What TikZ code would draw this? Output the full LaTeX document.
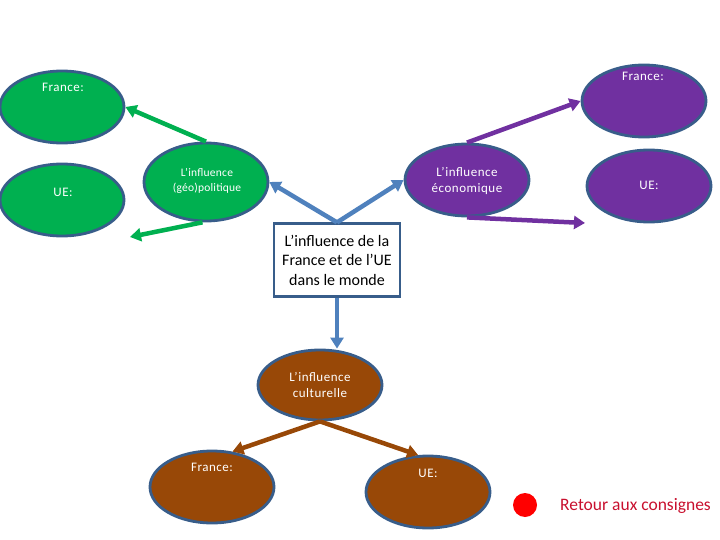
\documentclass[tikz,border=0pt]{standalone}
\usepackage{fontspec}
\setmainfont{Carlito}
\usetikzlibrary{arrows.meta,shapes.geometric}
\definecolor{gr}{HTML}{00B050}
\definecolor{pu}{HTML}{7030A0}
\definecolor{br}{HTML}{984807}
\definecolor{bd}{HTML}{385D8A}
\definecolor{bl}{HTML}{4F81BD}
\definecolor{rt}{HTML}{C8102E}
\tikzset{
  oval/.style={ellipse, draw=bd, line width=2.8pt, inner sep=0pt, minimum width=124pt, minimum height=72pt},
  wtxt/.style={text=white, font=\fontsize{13}{16}\selectfont\addfontfeature{LetterSpace=4}, align=center, inner sep=0pt},
  arr/.style={line width=4.5pt, -{Triangle[length=11pt,width=13pt]}},
}
\begin{document}
\begin{tikzpicture}[x=1pt,y=-1pt]
\useasboundingbox (0,0) rectangle (720,540);
% green
\node[oval, fill=gr] (gfr) at (62,107) {};
\node[oval, fill=gr] (gue) at (62,200) {};
\node[oval, fill=gr, minimum height=78pt] (geo) at (206,182) {};
\node[wtxt] (tgfr) at (63,87) {France:};
\node[wtxt] (tgue) at (63,192) {UE:};
\node[wtxt, font=\fontsize{11.5}{15}\selectfont\addfontfeature{LetterSpace=2}] (tgeo) at (207,181) {L’influence\\(géo)politique};
% purple
\node[oval, fill=pu] (eco) at (467,180) {};
\node[oval, fill=pu] (pfr) at (644,101) {};
\node[oval, fill=pu] (pue) at (649,186) {};
\node[wtxt] (teco) at (467,181) {L’influence\\économique};
\node[wtxt] (tpfr) at (643,76) {France:};
\node[wtxt] (tpue) at (649,185) {UE:};
% box
\node[draw=bd, line width=2.2pt, fill=white, minimum width=126pt, minimum height=73pt, align=center, inner sep=0pt,
  font=\fontsize{16}{19.5}\selectfont] (box) at (337,260) {L’influence de la\\France et de l’UE\\dans le monde};
% brown
\node[oval, fill=br, minimum height=70pt] (cult) at (320,385) {};
\node[oval, fill=br] (bfr) at (212,487) {};
\node[oval, fill=br] (bue) at (428,492) {};
\node[wtxt] (tcult) at (320,385) {L’influence\\culturelle};
\node[wtxt] (tbfr) at (212,467) {France:};
\node[wtxt] (tbue) at (428,473) {UE:};
% coordinates
\coordinate (tipgue) at (130,237);
\coordinate (tippue) at (585,223);
% arrows
\draw[arr, gr] (geo.north) -- (gfr.east);
\draw[arr, gr] (geo.265) -- (tipgue);
\draw[arr, pu] (eco.north) -- (pfr.west);
\draw[arr, pu] (eco.south) -- (tippue);
\draw[arr, bl] (box.north) -- (geo.east);
\draw[arr, bl] (box.north) -- (eco.west);
\draw[arr, bl] (box.south) -- (box.south |- cult.north);
\draw[arr, br] (cult.south) -- (bfr.60);
\draw[arr, br] (cult.south) -- (bue.105);
% return
\node[circle, fill=red, minimum size=24pt, inner sep=0pt] (ret) at (525,505) {};
\node[text=rt, font=\fontsize{17.5}{20}\selectfont, anchor=west, inner sep=0pt] (tret) at (560,506) {Retour aux consignes};
\end{tikzpicture}
\end{document}
